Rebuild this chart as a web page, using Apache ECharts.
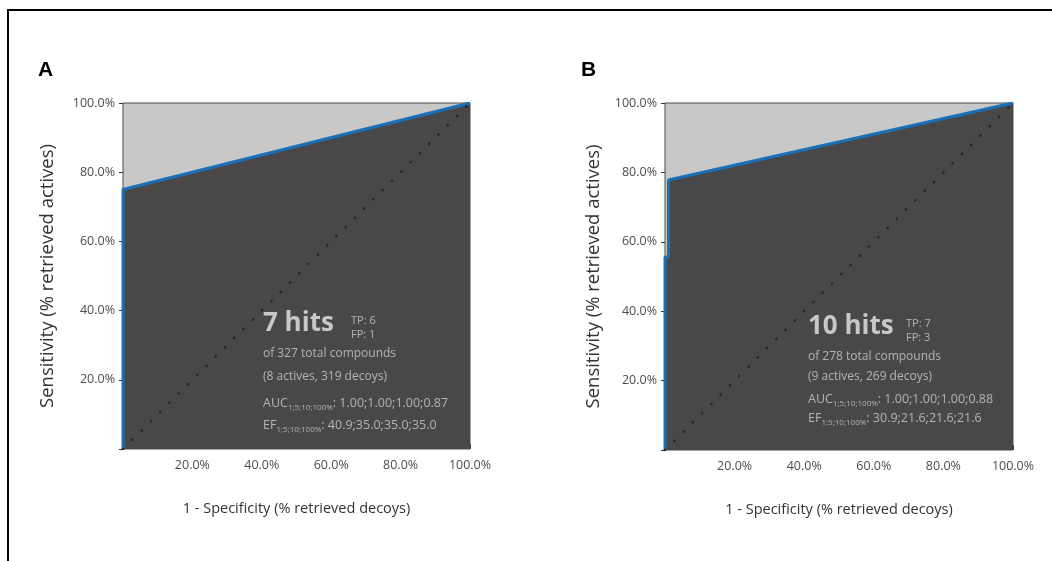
<!DOCTYPE html>
<html><head><meta charset="utf-8">
<script src="https://cdn.jsdelivr.net/npm/echarts@6/dist/echarts.min.js"></script>
<style>html,body{margin:0;padding:0;background:#fff}#c{width:1052px;height:561px}</style>
</head><body><div id="c"></div>
<script>
// ---- data ----
const panelLetters = ['A', 'B'];
const tickValues = [0, 0.2, 0.4, 0.6, 0.8, 1.0];
const rocA_x = [0, 0, 1];
const rocA_y = [0, 0.75, 1];
const rocB_x = [0, 0, 0.01, 0.01, 1];
const rocB_y = [0, 0.556, 0.556, 0.778, 1];
const diag = [[0, 0], [1, 1]];
const hitsA = '7 hits', tpA = 'TP: 6', fpA = 'FP: 1';
const totalA = 'of 327 total compounds', splitA = '(8 actives, 319 decoys)';
const aucA = '1.00;1.00;1.00;0.87', efA = '40.9;35.0;35.0;35.0';
const hitsB = '10 hits', tpB = 'TP: 7', fpB = 'FP: 3';
const totalB = 'of 278 total compounds', splitB = '(9 actives, 269 decoys)';
const aucB = '1.00;1.00;1.00;0.88', efB = '30.9;21.6;21.6;21.6';
const subLabel = '1;5;10;100%';
const xTitle = '1 - Specificity (% retrieved decoys)';
const yTitle = 'Sensitivity (% retrieved actives)';

const chart = echarts.init(document.getElementById('c'), null, {renderer: 'canvas'});
const FONT = 'Open Sans';
const fmt = v => (v === 0 ? '' : (v * 100).toFixed(1) + '%');
const zip = (xs, ys) => xs.map((x, i) => [x, ys[i]]);

const grids = [
  {left: 123, top: 103, width: 347, height: 346},
  {left: 665, top: 103, width: 348, height: 347}
].map(g => Object.assign(g, {show: true, backgroundColor: '#c8c8c8', borderColor: '#4a4a4a', borderWidth: 1}));

function xAx(i, gap) {
  return {gridIndex: i, type: 'value', min: 0, max: 1, interval: 0.2,
    axisLine: {show: false}, splitLine: {show: false},
    axisTick: {show: true, inside: true, length: 5, lineStyle: {color: '#222', width: 1.5}},
    axisLabel: {formatter: fmt, color: '#4d4d4d', fontSize: 12.5, fontFamily: FONT, margin: 10, showMinLabel: true},
    name: xTitle, nameLocation: 'middle', nameGap: gap,
    nameTextStyle: {fontSize: 14.5, color: '#333', fontFamily: FONT}};
}
function yAx(i, gap) {
  return {gridIndex: i, type: 'value', min: 0, max: 1, interval: 0.2,
    axisLine: {show: false}, splitLine: {show: false},
    axisTick: {show: true, inside: false, length: 4, lineStyle: {color: '#333'}},
    axisLabel: {formatter: fmt, color: '#4d4d4d', fontSize: 12.5, fontFamily: FONT, margin: 8},
    name: yTitle, nameLocation: 'middle', nameGap: gap,
    nameTextStyle: {fontSize: 18.5, color: '#333', fontFamily: FONT}};
}
function rocSeries(i, pts) {
  return {type: 'line', xAxisIndex: i, yAxisIndex: i, data: pts, symbol: 'none',
    lineStyle: {color: '#1a70b8', width: 3}, areaStyle: {color: '#484848', opacity: 1, origin: 'start'},
    z: 3, silent: true};
}
function diagSeries(i) {
  return {type: 'line', xAxisIndex: i, yAxisIndex: i, data: diag, symbol: 'none',
    lineStyle: {color: '#262626', width: 2.6, type: [0.1, 13], cap: 'round'}, z: 4, silent: true};
}
function annot(left, top, hits, tp, fp, total, split, auc, ef, dy, tpDx) {
  const c = '#b4b4b4';
  const rich = {a: {fontSize: 12.5, fill: c, fontFamily: FONT}, s: {fontSize: 8, fill: c, fontFamily: FONT, padding: [8, 0, 0, 0]}};
  return [
    {type: 'text', left: left, top: top, style: {text: hits, fill: '#c8c8c8', font: 'bold 26px ' + FONT}, z: 10},
    {type: 'text', left: left + tpDx, top: top + 3, style: {text: tp + '\n' + fp, fill: c, font: '11px ' + FONT, lineHeight: 14}, z: 10},
    {type: 'text', left: left, top: top + 37, style: {text: total, fill: c, font: '12px ' + FONT}, z: 10},
    {type: 'text', left: left, top: top + 37 + dy[0], style: {text: split, fill: c, font: '12px ' + FONT}, z: 10},
    {type: 'text', left: left, top: top + 37 + dy[0] + dy[1] - 4, style: {text: '{a|AUC}{s|' + subLabel + '}{a|: ' + auc + '}', rich: rich}, z: 10},
    {type: 'text', left: left, top: top + 37 + dy[0] + dy[1] + dy[2] - 4, style: {text: '{a|EF}{s|' + subLabel + '}{a|: ' + ef + '}', rich: rich}, z: 10}
  ];
}

chart.setOption({
  animation: false,
  grid: grids,
  xAxis: [xAx(0, 52), xAx(1, 52)],
  yAxis: [yAx(0, 66), yAx(1, 62)],
  series: [rocSeries(0, zip(rocA_x, rocA_y)), diagSeries(0), rocSeries(1, zip(rocB_x, rocB_y)), diagSeries(1)],
  graphic: [
    {type: 'rect', shape: {x: 8, y: 10, width: 1200, height: 700}, style: {fill: 'none', stroke: '#000', lineWidth: 2}, z: 20},
    {type: 'text', left: 38, top: 60, style: {text: panelLetters[0], fill: '#000', font: 'bold 21px Liberation Sans'}},
    {type: 'text', left: 581, top: 60, style: {text: panelLetters[1], fill: '#000', font: 'bold 21px Liberation Sans'}}
  ].concat(
    annot(263, 311, hitsA, tpA, fpA, totalA, splitA, aucA, efA, [23, 30, 22], 88),
    annot(808, 314, hitsB, tpB, fpB, totalB, splitB, aucB, efB, [20, 26, 19], 98)
  )
});
</script></body></html>
